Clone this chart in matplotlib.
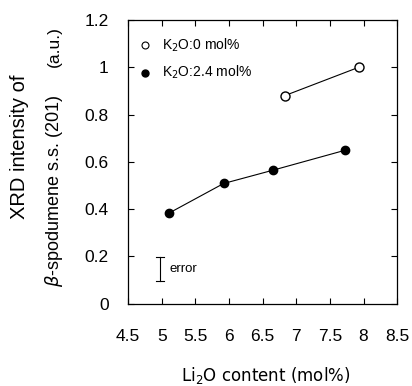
import matplotlib
matplotlib.use('Agg')
import matplotlib.pyplot as plt

plt.rcParams['font.family'] = ['Liberation Sans', 'DejaVu Sans']

# K2O: 0 mol%
li2o_k0 = [6.83, 7.93]
xrd_k0 = [0.88, 1.0]
# K2O: 2.4 mol%
li2o_k24 = [5.11, 5.92, 6.65, 7.73]
xrd_k24 = [0.383, 0.508, 0.564, 0.649]
# error bar
err_x = 4.98
err_lo, err_hi = 0.097, 0.198

xticks = [4.5, 5, 5.5, 6, 6.5, 7, 7.5, 8, 8.5]
xticklabels = ['4.5', '5', '5.5', '6', '6.5', '7', '7.5', '8', '8.5']
yticks = [0, 0.2, 0.4, 0.6, 0.8, 1.0, 1.2]
yticklabels = ['0', '0.2', '0.4', '0.6', '0.8', '1', '1.2']

fig = plt.figure(figsize=(4.12, 3.86), dpi=100)
ax = fig.add_axes([0.311, 0.2137, 0.653, 0.7345])

ax.plot(li2o_k0, xrd_k0, '-o', color='k', lw=0.8, mfc='white', mec='k', ms=6.5, mew=1.0)
ax.plot(li2o_k24, xrd_k24, '-o', color='k', lw=0.8, mfc='k', mec='k', ms=6)

# error bar
ax.plot([err_x, err_x], [err_lo, err_hi], color='k', lw=0.8)
ax.plot([err_x - 0.06, err_x + 0.06], [err_lo, err_lo], color='k', lw=0.8)
ax.plot([err_x - 0.06, err_x + 0.06], [err_hi, err_hi], color='k', lw=0.8)
ax.text(err_x + 0.14, (err_lo + err_hi) / 2, 'error', fontsize=9.5, va='center', ha='left')

# legend
ax.plot([4.75], [1.095], 'o', mfc='white', mec='k', ms=5, mew=0.8)
ax.text(5.0, 1.095, 'K$_2$O:0 mol%', fontsize=10, va='center', ha='left')
ax.plot([4.75], [0.977], 'o', mfc='k', mec='k', ms=5)
ax.text(5.0, 0.977, 'K$_2$O:2.4 mol%', fontsize=10, va='center', ha='left')

ax.set_xlim(4.5, 8.5)
ax.set_ylim(0, 1.2)
ax.set_xticks(xticks)
ax.set_xticklabels(xticklabels)
ax.set_yticks(yticks)
ax.set_yticklabels(yticklabels)
ax.tick_params(direction='in', top=True, right=True, length=4, width=0.8, labelsize=12.5)
ax.tick_params(axis='x', pad=18.5)
ax.tick_params(axis='y', pad=14)
for s in ax.spines.values():
    s.set_linewidth(0.9)

fig.text(266 / 412, 1 - 375 / 386, 'Li$_2$O content (mol%)', fontsize=12,
         family=['DejaVu Sans'], ha='center', va='center')

fig.text(20 / 412, 1 - 147 / 386, 'XRD intensity of', rotation=90, fontsize=14.5,
         ha='center', va='center')
fig.text(54 / 412, 1 - 191 / 386, r'$\beta$-spodumene s.s. (201)', rotation=90,
         fontsize=13, ha='center', va='center')
fig.text(54 / 412, 1 - 47 / 386, '(a.u.)', rotation=90,
         fontsize=12.5, ha='center', va='center')

fig.savefig('out.png', dpi=100)
